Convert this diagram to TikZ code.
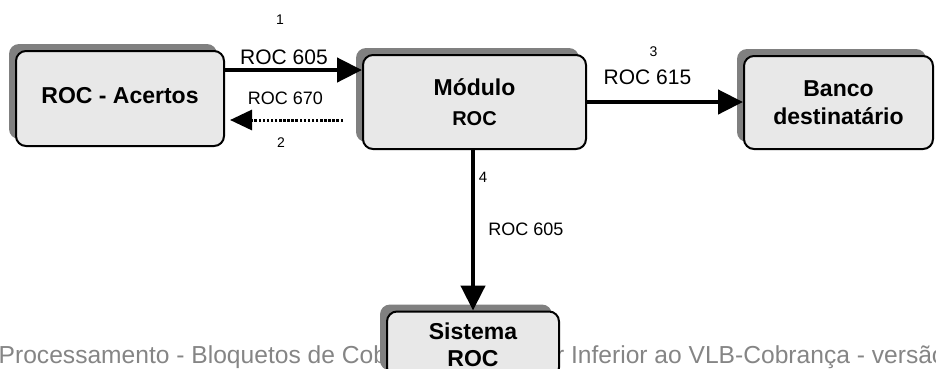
\documentclass[tikz,border=0pt]{standalone}
\usepackage{fontspec}
\setmainfont{Liberation Sans}
\usetikzlibrary{arrows.meta,shadows,calc}
\definecolor{boxfill}{HTML}{E8E8E8}
\definecolor{shadowgray}{HTML}{808080}
\definecolor{footgray}{HTML}{858585}
\tikzset{
  procbox/.style={draw=black, line width=2pt, fill=boxfill, rounded corners=10pt,
    align=center, inner sep=0pt, font=\bfseries\fontsize{23}{28}\selectfont,
    general shadow={fill=shadowgray, shadow xshift=-7pt, shadow yshift=7pt}},
  flow/.style={line width=4.5pt, -{Triangle[length=25pt,width=24pt]}},
  backflow/.style={line width=3pt, dash pattern=on 2.5pt off 1.6pt, -{Triangle[length=22pt,width=20pt]}},
  numlbl/.style={inner sep=0pt, font=\fontsize{14}{16}\selectfont},
  biglbl/.style={inner sep=0pt, font=\fontsize{21}{25}\selectfont},
  smalllbl/.style={inner sep=0pt, font=\fontsize{18}{22}\selectfont},
}
\begin{document}
\begin{tikzpicture}[x=1pt,y=-1pt]
\useasboundingbox (0,0) rectangle (936,368);
\clip (0,0) rectangle (936,368);
% footer text (partly hidden behind the bottom box)
\node[anchor=base west, inner sep=0pt, text=footgray, font=\fontsize{24.6}{29}\selectfont] (foot) at (-1.5,363) {Processamento - Bloquetos de Cobrança com Valor Inferior ao VLB-Cobrança - versão};
% boxes
\node[procbox, minimum width=208pt, minimum height=95pt, text depth=6pt] (A) at (120,98.5) {ROC - Acertos};
\node[procbox, minimum width=223pt, minimum height=94pt] (M) at (474.5,102) {Módulo\\[2pt]{\fontsize{20}{24}\selectfont ROC}};
\node[procbox, minimum width=189pt, minimum height=93pt] (B) at (838.5,102.5) {Banco\\destinatário};
\node[procbox, minimum width=172pt, minimum height=66pt] (S) at (473,344.5) {Sistema\\[-1pt]ROC};
% connectors
\coordinate (r1) at (0,70);
\coordinate (r2) at (0,120);
\draw[flow] (A.east |- r1) -- (M.west |- r1);
\draw[backflow] ($(M.west |- r2)+(-19,0)$) -- ($(A.east |- r2)+(5,0)$);
\draw[flow] (M.east) -- (M.east -| B.west);
\draw[flow] (M.south -| S.north) -- (S.north);
% labels
\node[numlbl] (n1) at (280,20) {1};
\node[biglbl] (t1) at (284,57.5) {ROC 605};
\node[smalllbl] (t2) at (285.5,98.5) {ROC 670};
\node[numlbl] (n2) at (281,143) {2};
\node[numlbl] (n3) at (653.5,51.5) {3};
\node[biglbl] (t3) at (647.5,77.5) {ROC 615};
\node[numlbl, font=\fontsize{15}{17}\selectfont] (n4) at (483,177.5) {4};
\node[smalllbl] (t4) at (526,229) {ROC 605};
\end{tikzpicture}
\end{document}
